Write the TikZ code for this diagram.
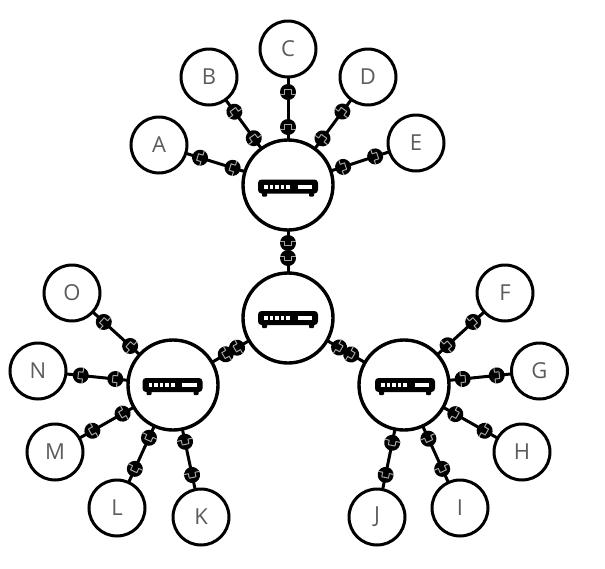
\documentclass[tikz,border=0pt]{standalone}
\usepackage{fontspec}
\setmainfont{Open Sans}
\usetikzlibrary{calc}
\definecolor{lbl}{gray}{0.36}
\tikzset{x=1pt,y=-1pt,
  hub/.style={circle,draw=black,fill=white,line width=3.4pt,inner sep=0pt,minimum size=90pt},
  leaf/.style={circle,draw=black,fill=white,line width=3pt,inner sep=0pt,minimum size=56pt,text=lbl,font=\fontsize{22}{22}\selectfont},
  link/.style={draw=black,line width=3pt},
  plug/.pic={
    \fill[black] (0,0) circle[radius=8];
    \draw[black!35,line width=1pt,line join=round] (-2,-8.1) -- (-2,-3.4) -- (2.6,-3.4) -- (2.6,3.4) -- (-2,3.4) -- (-2,8.1);
  },
  router/.pic={
    \fill[black,rounded corners=3.5pt] (-30,-7) rectangle (30,7);
    \fill[black,rounded corners=1pt] (-26,6) rectangle (-21,10);
    \fill[black,rounded corners=1pt] (21,6) rectangle (26,10);
    \foreach \i in {0,...,4} \fill[white] ({-24+5.6*\i},-2) rectangle ++(3.6,4);
    \fill[white] (9.7,-2) rectangle (24.3,2);
  }
}
\newcommand{\conn}[4]{%
  \draw[link] (#1) -- (#2);
  \path let \p1=($(#2)-(#1)$), \n1={atan2(\y1,\x1)} in
    pic[rotate=\n1] at ($(#1)!#3pt!(#2)$) {plug}
    pic[rotate=\n1] at ($(#2)!#4pt!(#1)$) {plug};
}
\begin{document}
\begin{tikzpicture}
\useasboundingbox (0,0) rectangle (605,568);
\coordinate (hT) at (288,185);
\coordinate (hC) at (288,318);
\coordinate (hL) at (173,385);
\coordinate (hR) at (404,385);
\coordinate (rT) at (288,186.5);
\coordinate (rC) at (288,318);
\coordinate (rL) at (172.5,385);
\coordinate (rR) at (405,385);
\coordinate (lA) at (159,145);
\coordinate (lB) at (209,77);
\coordinate (lC) at (288,49);
\coordinate (lD) at (368,77);
\coordinate (lE) at (416,143);
\coordinate (lF) at (505,293);
\coordinate (lG) at (539.5,371);
\coordinate (lH) at (522,452);
\coordinate (lI) at (460,508);
\coordinate (lJ) at (377,517);
\coordinate (lK) at (201,517);
\coordinate (lL) at (117,508);
\coordinate (lM) at (55,452);
\coordinate (lN) at (38,371);
\coordinate (lO) at (72,293);
\conn{hT}{hC}{58}{60}
\conn{hC}{hL}{59}{61}
\conn{hC}{hR}{59}{61}
\foreach \lt in {A,B,C,D,E} {\conn{hT}{l\lt}{58}{43}}
\foreach \lt in {F,G,H,I,J} {\conn{hR}{l\lt}{59}{43}}
\foreach \lt in {K,L,M,N,O} {\conn{hL}{l\lt}{58}{43}}
\foreach \lt in {T,C,L,R} {
  \node[hub] (n\lt) at (h\lt) {};
  \pic at (r\lt) {router};
}
\foreach \lt in {A,...,O} {
  \node[leaf] (m\lt) at (l\lt) {\lt};
}
\end{tikzpicture}
\end{document}
